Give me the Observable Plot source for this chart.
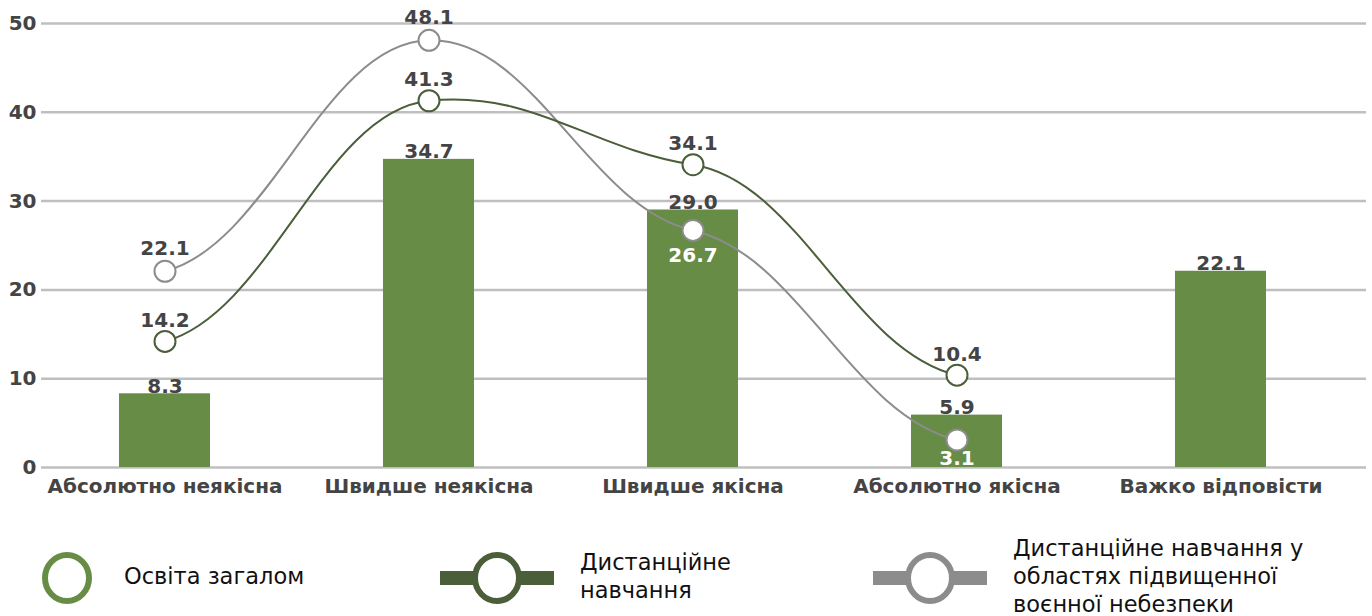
<!DOCTYPE html>
<html>
<head>
<meta charset="utf-8">
<script src="https://cdn.jsdelivr.net/npm/d3@7"></script>
<script src="https://cdn.jsdelivr.net/npm/@observablehq/plot@0.6"></script>
<style>
  body { margin: 0; background: #fff; font-family: "DejaVu Sans", sans-serif; }
  #chart svg { display: block; }
  #legend { position: relative; width: 1372px; height: 111px; color: #111; font-family: "DejaVu Sans", sans-serif; font-size: 22.5px; line-height: 28px; overflow: hidden; }
  .item { position: absolute; }
  .txt { position: absolute; white-space: nowrap; }
</style>
</head>
<body>
<div id="chart"></div>
<div id="legend"></div>
<script>
const categories = ["Абсолютно неякісна", "Швидше неякісна", "Швидше якісна", "Абсолютно якісна", "Важко відповісти"];
const overall = [8.3, 34.7, 29.0, 5.9, 22.1];
const distance = [14.2, 41.3, 34.1, 10.4];
const distanceDanger = [22.1, 48.1, 26.7, 3.1];
const yTicks = [0, 10, 20, 30, 40, 50];
const seriesNames = ["Освіта загалом", "Дистанційне навчання", "Дистанційне навчання у областях підвищенної воєнної небезпеки"];
const legendLines = [["Освіта загалом"], ["Дистанційне", "навчання"], ["Дистанційне навчання у", "областях підвищенної", "воєнної небезпеки"]];

const barColor = "#678c45";
const darkColor = "#4a5e3a";
const grayColor = "#8c8c8c";
const textColor = "#444444";

const bars = categories.map((c, i) => ({cat: c, v: overall[i]}));
const dist = distance.map((v, i) => ({cat: categories[i], v}));
const danger = distanceDanger.map((v, i) => ({cat: categories[i], v}));
const dangerAbove = danger.filter((d, i) => i < 2);
const dangerMid = danger.filter((d, i) => i === 2);
const dangerLow = danger.filter((d, i) => i === 3);

// soft smoothing curve (spreadsheet-like): near-horizontal handles with damped slopes
function smooth(context) {
  let pts = [];
  return {
    areaStart() {}, areaEnd() {},
    lineStart() { pts = []; },
    point(x, y) { pts.push([+x, +y]); },
    lineEnd() {
      const n = pts.length;
      if (!n) return;
      const k = 0.3, h = 0.4;
      const m = pts.map((p, i) => {
        const a = pts[Math.max(0, i - 1)], b = pts[Math.min(n - 1, i + 1)];
        return b[0] === a[0] ? 0 : (b[1] - a[1]) / (b[0] - a[0]) * k;
      });
      context.moveTo(pts[0][0], pts[0][1]);
      for (let i = 1; i < n; i++) {
        const [x0, y0] = pts[i - 1], [x1, y1] = pts[i];
        const dx = (x1 - x0) * h;
        context.bezierCurveTo(x0 + dx, y0 + m[i - 1] * dx, x1 - dx, y1 - m[i] * dx, x1, y1);
      }
    }
  };
}

const font = "DejaVu Sans";
const fs = 20;
const chart = Plot.plot({
  width: 1372,
  height: 505,
  marginLeft: 41,
  marginRight: 6,
  marginTop: 23,
  marginBottom: 38,
  style: {fontFamily: font, fontWeight: "bold", fontSize: fs + "px", color: textColor, background: "#fff"},
  x: {domain: categories, paddingInner: 0.655, paddingOuter: 0.29, insetRight: 22, label: null},
  y: {domain: [0, 50], ticks: yTicks, label: null},
  marks: [
    Plot.ruleY(yTicks, {stroke: "#bfbfbf", strokeWidth: 2.5}),
    Plot.barY(bars, {x: "cat", y: "v", fill: barColor}),
    Plot.line(danger, {x: "cat", y: "v", stroke: grayColor, strokeWidth: 2, curve: smooth}),
    Plot.line(dist, {x: "cat", y: "v", stroke: darkColor, strokeWidth: 2, curve: smooth}),
    Plot.dot(danger, {x: "cat", y: "v", r: 10.5, fill: "#fff", stroke: grayColor, strokeWidth: 2}),
    Plot.dot(dist, {x: "cat", y: "v", r: 10.5, fill: "#fff", stroke: darkColor, strokeWidth: 2}),
    Plot.text(bars, {x: "cat", y: "v", text: d => d.v.toFixed(1), lineAnchor: "bottom", dy: -1, fill: textColor, fontSize: fs, fontWeight: "bold"}),
    Plot.text(dist, {x: "cat", y: "v", text: d => d.v.toFixed(1), dy: -21, fill: textColor, fontSize: fs, fontWeight: "bold"}),
    Plot.text(dangerAbove, {x: "cat", y: "v", text: d => d.v.toFixed(1), dy: -23, fill: textColor, fontSize: fs, fontWeight: "bold"}),
    Plot.text(dangerMid, {x: "cat", y: "v", text: d => d.v.toFixed(1), dy: 25, fill: "#ffffff", fontSize: fs, fontWeight: "bold"}),
    Plot.text(dangerLow, {x: "cat", y: "v", text: d => d.v.toFixed(1), dy: 19, fill: "#ffffff", fontSize: fs, fontWeight: "bold"}),
    Plot.axisY({ticks: yTicks, tickSize: 0, tickPadding: 5, fontSize: fs, fontWeight: "bold", fill: textColor}),
    Plot.axisX({tickSize: 0, tickPadding: 11, fontSize: fs, fontWeight: "bold", fill: textColor})
  ]
});
document.getElementById("chart").appendChild(chart);

// legend
const legend = document.getElementById("legend");
const legendColors = [barColor, darkColor, grayColor];
const swatchX = [40, 440, 873];
const textX = [124, 580, 1013];
legendLines.forEach((lines, i) => {
  const sw = document.createElementNS("http://www.w3.org/2000/svg", "svg");
  const withLine = i > 0;
  const w = withLine ? 114 : 54;
  sw.setAttribute("width", w);
  sw.setAttribute("height", 54);
  sw.setAttribute("class", "item");
  sw.style.left = swatchX[i] + "px";
  sw.style.top = (73 - 27) + "px";
  let inner = "";
  if (withLine) inner += `<rect x="0" y="20" width="${w}" height="14" fill="${legendColors[i]}"/>`;
  inner += `<ellipse cx="${w/2}" cy="27" rx="22" ry="23" fill="#fff" stroke="${legendColors[i]}" stroke-width="6"/>`;
  sw.innerHTML = inner;
  legend.appendChild(sw);
  const t = document.createElement("div");
  t.className = "txt";
  t.style.left = textX[i] + "px";
  t.style.top = (71 - lines.length * 28 / 2) + "px";
  t.innerHTML = lines.join("<br>");
  legend.appendChild(t);
});
</script>
</body>
</html>
